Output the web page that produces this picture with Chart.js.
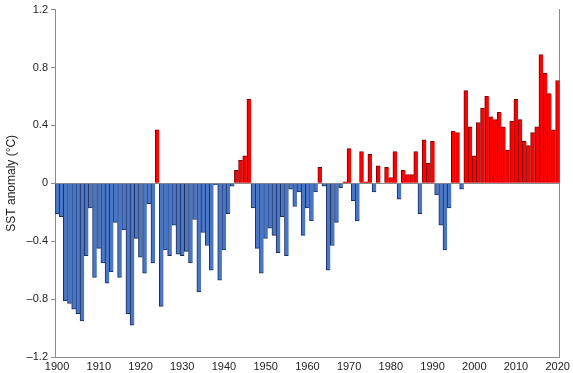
<!DOCTYPE html>
<html>
<head>
<meta charset="utf-8">
<script src="https://cdn.jsdelivr.net/npm/chart.js@4.4.0/dist/chart.umd.min.js"></script>
<style>
  html, body { margin: 0; padding: 0; background: #fff; }
  #wrap { width: 573px; height: 373px; }
</style>
</head>
<body>
<div id="wrap"><canvas id="sstChart" width="573" height="373"></canvas></div>
<script>
// years 1900-2020
const firstYear = 1900;
const lastYear = 2020;
const years = [];
for (let y = firstYear; y <= lastYear; y++) years.push(y);

// SST anomaly (°C)
const anomalies = [
  -0.21, -0.23, -0.81, -0.83, -0.87, -0.90, -0.95, -0.50, -0.17, -0.65, // 1900s
  -0.45, -0.55, -0.69, -0.61, -0.27, -0.65, -0.32, -0.90, -0.98, -0.38, // 1910s
  -0.51, -0.62, -0.14, -0.55,  0.37, -0.85, -0.46, -0.50, -0.29, -0.49, // 1920s
  -0.50, -0.47, -0.55, -0.25, -0.75, -0.34, -0.43, -0.60, -0.01, -0.67, // 1930s
  -0.46, -0.21, -0.02,  0.09,  0.16,  0.19,  0.58, -0.17, -0.45, -0.62, // 1940s
  -0.38, -0.31, -0.36, -0.48, -0.23, -0.50, -0.04, -0.16, -0.06, -0.36, // 1950s
  -0.17, -0.26, -0.06,  0.11, -0.02, -0.60, -0.43, -0.27, -0.03,  0.01, // 1960s
   0.24, -0.12, -0.26,  0.22,  0.01,  0.20, -0.06,  0.12,  0.00,  0.11, // 1970s
   0.04,  0.22, -0.11,  0.09,  0.06,  0.06,  0.22, -0.21,  0.30,  0.14, // 1980s
   0.29, -0.08, -0.29, -0.46, -0.17,  0.36,  0.35, -0.04,  0.64,  0.39, // 1990s
   0.19,  0.42,  0.52,  0.60,  0.46,  0.44,  0.49,  0.39,  0.23,  0.43, // 2000s
   0.58,  0.44,  0.29,  0.26,  0.35,  0.39,  0.89,  0.76,  0.62,  0.37, // 2010s
   0.71                                                                 // 2020
];

const yMin = -1.2;
const yMax = 1.2;
const yStep = 0.4;

const warmFill = '#ff0000';
const warmEdge = '#7a0000';
const coolFill = '#4a76c6';
const coolEdge = '#1d2f5c';
const axisGrey = '#8c8c8c';
const font = '"Liberation Sans", Arial, Helvetica, sans-serif';

const fmtTick = v => {
  const r = Math.round(v * 10) / 10;
  if (r === 0) return '0';
  return r < 0 ? '\u2013' + Math.abs(r).toFixed(1) : r.toFixed(1);
};

new Chart(document.getElementById('sstChart'), {
  type: 'bar',
  data: {
    labels: years,
    datasets: [{
      data: anomalies,
      backgroundColor: anomalies.map(v => v >= 0 ? warmFill : coolFill),
      borderColor: anomalies.map(v => v >= 0 ? warmEdge : coolEdge),
      borderWidth: { left: 1, right: 0, top: 1, bottom: 1 },
      barPercentage: 1,
      categoryPercentage: 1
    }]
  },
  options: {
    responsive: false,
    animation: false,
    events: [],
    layout: { padding: { left: 0, right: 13, top: 5, bottom: 0 } },
    plugins: {
      legend: { display: false },
      tooltip: { enabled: false }
    },
    scales: {
      x: {
        grid: { display: false, drawTicks: false },
        border: { display: true, color: axisGrey, width: 1 },
        ticks: {
          autoSkip: false,
          maxRotation: 0,
          minRotation: 0,
          padding: 3,
          color: '#222',
          font: { family: font, size: 11 },
          callback: function (val, i) {
            return years[i] % 10 === 0 ? String(years[i]) : '';
          }
        },
        afterFit: s => { s.height = 16; }
      },
      y: {
        min: yMin,
        max: yMax,
        z: 1,
        border: { display: true, color: axisGrey, width: 1 },
        grid: {
          drawOnChartArea: true,
          drawTicks: true,
          tickLength: 4,
          tickColor: axisGrey,
          color: ctx => (ctx.tick && Math.abs(ctx.tick.value) < 1e-9) ? axisGrey : 'rgba(0,0,0,0)'
        },
        ticks: {
          stepSize: yStep,
          padding: 3,
          color: '#222',
          font: { family: font, size: 11 },
          callback: v => fmtTick(v)
        },
        title: {
          display: true,
          text: 'SST anomaly (\u00b0C)',
          color: '#222',
          font: { family: font, size: 12 },
          padding: { top: 4, bottom: 0 }
        },
        afterFit: s => { s.width = 55; }
      },
      yRight: {
        position: 'right',
        min: yMin,
        max: yMax,
        grid: { display: false },
        ticks: { display: false },
        border: { display: true, color: axisGrey, width: 1 },
        afterFit: s => { s.width = 0; }
      }
    }
  }
});
</script>
</body>
</html>
